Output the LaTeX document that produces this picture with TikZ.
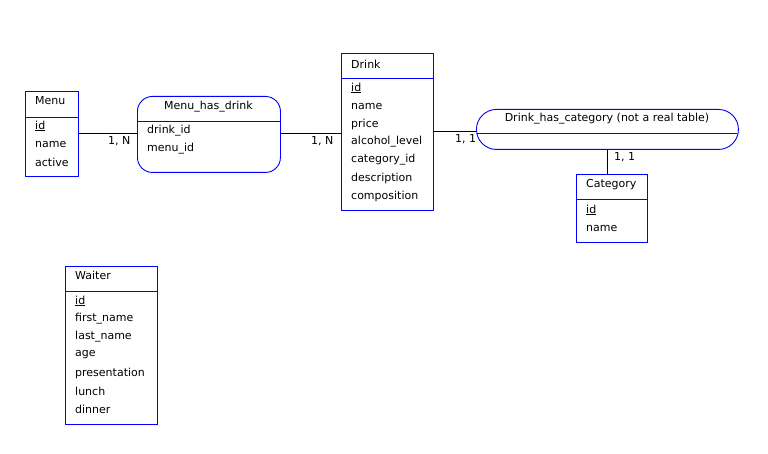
\documentclass[tikz,border=0pt]{standalone}
\usepackage{fontspec}
\setmainfont{DejaVu Sans}
\begin{document}
\begin{tikzpicture}[x=1pt,y=-1pt,
  ent/.style={draw=blue, line width=0.9pt, inner sep=0pt, anchor=north west},
  hdr/.style={draw=blue, line width=0.9pt},
  title/.style={font=\fontsize{11}{13}\selectfont, inner sep=0pt, anchor=west},
  attr/.style={font=\fontsize{11}{13}\selectfont, inner sep=0pt, anchor=west},
  card/.style={font=\fontsize{11}{13}\selectfont, inner sep=0pt, anchor=west},
  conn/.style={draw=black, line width=0.9pt}]
\useasboundingbox (0,0) rectangle (768,454);
\fill[white] (0,0) rectangle (768,454);

% Menu
\node[ent, minimum width=53pt, minimum height=85pt] (menu) at (25,91) {};
\draw[hdr] (25,117) -- (78,117);
\node[title] (menut) at (35,101) {Menu};
\node[attr] (menu1) at (35,126) {\underline{id}};
\node[attr] (menu2) at (35,144) {name};
\node[attr] (menu3) at (35,162) {active};

% Menu_has_drink
\node[ent, rounded corners=15pt, minimum width=143pt, minimum height=76pt] (mhd) at (137,96) {};
\draw[hdr] (137,121) -- (280,121);
\node[title, anchor=center] (mhdt) at (208.5,107) {Menu\_has\_drink};
\node[attr] (mhd1) at (147,131) {drink\_id};
\node[attr] (mhd2) at (147,149) {menu\_id};

% Drink
\node[ent, minimum width=92pt, minimum height=157pt] (drink) at (341,53) {};
\draw[hdr] (341,78) -- (433,78);
\node[title] (drinkt) at (351,64) {Drink};
\node[attr] (d1) at (351,88) {\underline{id}};
\node[attr] (d2) at (351,106) {name};
\node[attr] (d3) at (351,124) {price};
\node[attr] (d4) at (351,142) {alcohol\_level};
\node[attr] (d5) at (351,160) {category\_id};
\node[attr] (d6) at (351,178) {description};
\node[attr] (d7) at (351,196) {composition};

% Drink_has_category
\node[ent, rounded corners=20pt, minimum width=262pt, minimum height=40pt] (dhc) at (476,109) {};
\draw[hdr] (477,133) -- (737,133);
\node[title, anchor=center] (dhct) at (607,119) {Drink\_has\_category (not a real table)};

% Category
\node[ent, minimum width=71pt, minimum height=68pt] (cat) at (576,174) {};
\draw[hdr] (576,199) -- (647,199);
\node[title] (catt) at (586,185) {Category};
\node[attr] (c1) at (586,210) {\underline{id}};
\node[attr] (c2) at (586,228) {name};

% Waiter
\node[ent, minimum width=92pt, minimum height=158pt] (waiter) at (65,266) {};
\draw[hdr] (65,291) -- (157,291);
\node[title] (waitert) at (75,275) {Waiter};
\node[attr] (w1) at (75,301) {\underline{id}};
\node[attr] (w2) at (75,319) {first\_name};
\node[attr] (w3) at (75,337) {last\_name};
\node[attr] (w4) at (75,355) {age};
\node[attr] (w5) at (75,373) {presentation};
\node[attr] (w6) at (75,391) {lunch};
\node[attr] (w7) at (75,409) {dinner};

% connectors
\draw[conn] (menu.east) -- (menu.east -| mhd.west);
\draw[conn] (mhd.east |- 0,133) -- (drink.west |- 0,133);
\draw[conn] (drink.east |- 0,131) -- (dhc.west |- 0,131);
\draw[conn] (dhc.south) -- (dhc.south |- cat.north);

% cardinalities
\node[card] (k1) at (108,141) {1, N};
\node[card] (k2) at (311,141) {1, N};
\node[card] (k3) at (455,139) {1, 1};
\node[card] (k4) at (614,157) {1, 1};
\end{tikzpicture}
\end{document}
